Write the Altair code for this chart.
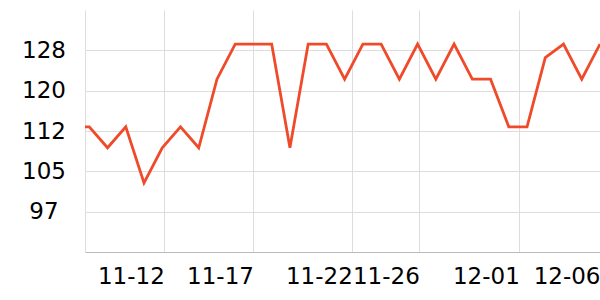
import altair as alt
import pandas as pd

# Daily readings (first point lies just left of the visible window and is clipped)
dates = [
    "2023-11-07", "2023-11-08", "2023-11-09", "2023-11-10", "2023-11-11",
    "2023-11-12", "2023-11-13", "2023-11-14", "2023-11-15", "2023-11-16",
    "2023-11-17", "2023-11-18", "2023-11-19", "2023-11-20", "2023-11-21",
    "2023-11-22", "2023-11-23", "2023-11-24", "2023-11-25", "2023-11-26",
    "2023-11-27", "2023-11-28", "2023-11-29", "2023-11-30", "2023-12-01",
    "2023-12-02", "2023-12-03", "2023-12-04", "2023-12-05", "2023-12-06",
]
values = [
    113.2, 113.2, 109.2, 113.2, 102.5,
    109.2, 113.2, 109.2, 122.3, 129.0,
    129.0, 129.0, 109.2, 129.0, 129.0,
    122.3, 129.0, 129.0, 122.3, 129.0,
    122.3, 129.0, 122.3, 122.3, 113.2,
    113.2, 126.4, 129.0, 122.3, 129.0,
]

# Axis tick settings
y_domain = [89.3, 135.5]
y_ticks = [97.0, 104.7, 112.4, 120.1, 127.8]
x_domain = [
    alt.DateTime(year=2023, month=11, date=7, hours=18, minutes=21),
    alt.DateTime(year=2023, month=12, date=6),
]
x_ticks = [
    alt.DateTime(year=2023, month=11, date=12, hours=2, minutes=41),
    alt.DateTime(year=2023, month=11, date=17),
    alt.DateTime(year=2023, month=11, date=22, hours=10, minutes=3),
    alt.DateTime(year=2023, month=11, date=26, hours=2, minutes=12),
    alt.DateTime(year=2023, month=12, date=1, hours=13, minutes=48),
    alt.DateTime(year=2023, month=12, date=6),
]

df = pd.DataFrame({"date": [d + "T00:00:00" for d in dates], "value": values})

FONT = "DejaVu Sans"

chart = (
    alt.Chart(df)
    .mark_line(color="#EF4A2A", strokeWidth=2.8, clip=True)
    .encode(
        x=alt.X(
            "date:T",
            scale=alt.Scale(domain=x_domain),
            axis=alt.Axis(
                values=x_ticks,
                format="%m-%d",
                labelAlign="right",
                labelBaseline="alphabetic",
                labelPadding=31,
                labelFlush=False,
                labelOverlap=False,
                labelBound=False,
                ticks=False,
                tickSize=0,
                grid=True,
                gridColor="#dddddd",
                gridWidth=1,
                domainColor="#bbbbbb",
                labelFont=FONT,
                labelFontSize=23,
                labelColor="#000000",
                title=None,
            ),
        ),
        y=alt.Y(
            "value:Q",
            scale=alt.Scale(domain=y_domain, nice=False, zero=False),
            axis=alt.Axis(
                values=y_ticks,
                format="d",
                labelAlign="center",
                labelBaseline="middle",
                labelPadding=41.5,
                labelFlush=False,
                labelOverlap=False,
                ticks=False,
                tickSize=0,
                grid=True,
                gridColor="#dddddd",
                gridWidth=1,
                domainColor="#dddddd",
                labelFont=FONT,
                labelFontSize=23,
                labelColor="#000000",
                title=None,
            ),
        ),
    )
    .properties(
        width=515,
        height=242,
        padding={"left": 85, "top": 10, "right": 0, "bottom": 48},
        autosize="none",
    )
    .configure_view(stroke=None)
)

chart.save("out.html", embed_options={"renderer": "svg", "actions": False})
